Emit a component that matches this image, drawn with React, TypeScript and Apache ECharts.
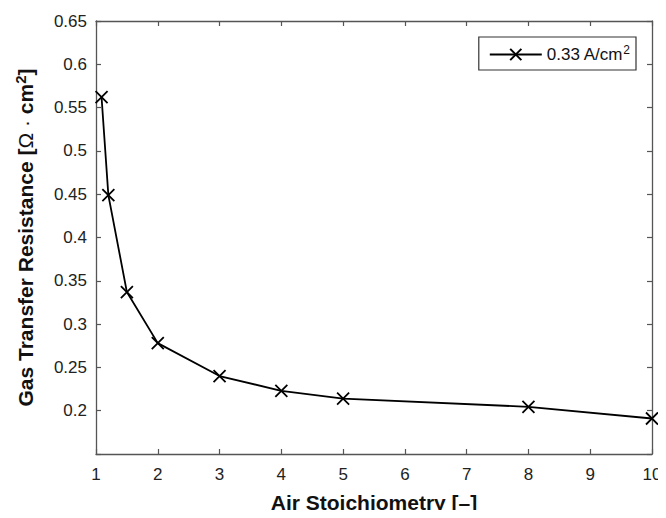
import React, { useEffect, useRef } from "react";
import * as echarts from "echarts";

const stoich = [1.09, 1.2, 1.5, 2, 3, 4, 5, 8, 10];
const resistance = [0.562, 0.449, 0.337, 0.278, 0.24, 0.223, 0.214, 0.2045, 0.191];
const seriesName = "0.33 A/cm2";
const xTitle = "Air Stoichiometry [–]";
const yTitle = "Gas Transfer Resistance [{thin|Ω · }cm{sup|2}]";

const FONT = "'Liberation Sans', Arial, Helvetica, sans-serif";
const AXIS = "#555";

export default function App() {
  const ref = useRef<HTMLDivElement>(null);
  useEffect(() => {
    if (!ref.current) return;
    const chart = echarts.init(ref.current, undefined, { renderer: "svg" });
    const axisCommon = {
      axisLine: { show: true, onZero: false, lineStyle: { color: AXIS, width: 1.3 } },
      axisTick: { show: true, inside: true, length: 5, lineStyle: { color: AXIS, width: 1.2 } },
      splitLine: { show: false },
    };
    chart.setOption({
      animation: false,
      backgroundColor: "#fff",
      grid: { left: 96, right: 14, top: 21, bottom: 59, containLabel: false },
      legend: {
        right: 30,
        top: 37,
        orient: "horizontal",
        itemWidth: 52,
        itemHeight: 14,
        itemGap: 5,
        padding: [7, 6, 7, 10],
        borderColor: "#333",
        borderWidth: 1.2,
        backgroundColor: "#fff",
        formatter: () => "0.33 A/cm{sup|2}",
        textStyle: {
          fontFamily: FONT,
          fontSize: 17,
          color: "#111",
          rich: {
            sup: { fontFamily: FONT, fontSize: 12, color: "#111", verticalAlign: "bottom", padding: [0, 0, 9, 0] },
          },
        },
        data: [{ name: seriesName }],
      },
      xAxis: [
        {
          type: "value",
          min: 1,
          max: 10,
          interval: 1,
          position: "bottom",
          name: xTitle,
          nameLocation: "middle",
          nameGap: 38,
          nameTextStyle: { fontFamily: FONT, fontSize: 21, fontWeight: "bold", color: "#111" },
          axisLabel: { fontFamily: FONT, fontSize: 17, color: "#222", margin: 12 },
          ...axisCommon,
        },
        {
          type: "value",
          min: 1,
          max: 10,
          interval: 1,
          position: "top",
          axisLabel: { show: false },
          ...axisCommon,
        },
      ],
      yAxis: [
        {
          type: "value",
          min: 0.15,
          max: 0.65,
          interval: 0.05,
          position: "left",
          name: yTitle,
          nameLocation: "middle",
          nameGap: 58,
          nameTextStyle: {
            fontFamily: FONT,
            fontSize: 21,
            fontWeight: "bold",
            color: "#111",
            rich: {
              thin: { fontFamily: FONT, fontSize: 21, fontWeight: "normal", color: "#111" },
              sup: { fontFamily: FONT, fontSize: 15, fontWeight: "bold", color: "#111", verticalAlign: "bottom", padding: [0, 0, 10, 0] },
            },
          },
          axisLabel: {
            fontFamily: FONT,
            fontSize: 17,
            color: "#222",
            margin: 9,
            formatter: (v: number) => (v < 0.16 ? "" : String(Math.round(v * 100) / 100)),
          },
          ...axisCommon,
        },
        {
          type: "value",
          min: 0.15,
          max: 0.65,
          interval: 0.05,
          position: "right",
          axisLabel: { show: false },
          ...axisCommon,
        },
      ],
      series: [
        {
          name: seriesName,
          type: "line",
          data: stoich.map((x, i) => [x, resistance[i]]),
          symbol: "path://M0 0L10 10M10 0L0 10",
          symbolSize: 12,
          showAllSymbol: true,
          lineStyle: { color: "#000", width: 1.8 },
          itemStyle: { color: "#000", borderColor: "#000", borderWidth: 1.8 },
        },
      ],
    });
    return () => chart.dispose();
  }, []);
  return <div ref={ref} style={{ width: 666, height: 518, margin: -8 }} />;
}
